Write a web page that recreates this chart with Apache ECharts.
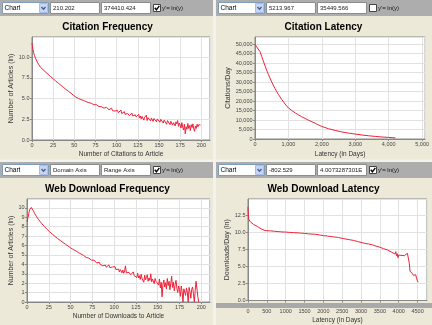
<!DOCTYPE html>
<html><head><meta charset="utf-8">
<script src="https://cdn.jsdelivr.net/npm/echarts@6/dist/echarts.min.js"></script>
<style>html,body{margin:0;padding:0;background:#ece9d8;overflow:hidden}#c{width:432px;height:325px}</style>
</head><body><div id="c"></div>
<script>
// ---- Data ----
// Citation Frequency: ln(number of articles) for citation counts 0..199
const citeFreqY = [
11.7,11.0,10.55,10.2,9.92,9.68,9.47,9.28,9.11,8.95,
8.80,8.70,8.60,8.50,8.41,8.31,8.22,8.12,8.03,7.94,
7.85,7.76,7.67,7.58,7.49,7.40,7.31,7.22,7.13,7.05,
6.96,6.88,6.79,6.71,6.62,6.54,6.46,6.37,6.29,6.21,
6.13,6.04,5.97,5.88,5.81,5.72,5.66,5.57,5.50,5.40,
5.26,5.20,5.17,5.10,5.08,5.02,4.97,4.95,4.88,4.86,
4.80,4.78,4.71,4.69,4.63,4.62,4.55,4.52,4.49,4.42,
4.44,4.33,4.36,4.26,4.30,4.18,4.27,4.10,4.15,4.05,
4.12,3.95,4.02,3.92,4.05,3.85,3.90,3.80,3.95,3.72,
3.82,3.65,3.78,3.60,3.85,3.55,3.62,3.70,3.50,3.60,
3.40,3.58,3.30,3.45,3.25,3.62,3.20,3.35,3.15,3.42,
3.10,3.30,3.05,3.20,3.35,2.95,3.15,3.00,3.25,2.90,
3.10,2.85,3.05,2.80,3.00,2.75,3.10,2.65,2.90,2.55,
2.85,2.95,2.40,2.75,2.60,3.00,2.35,2.70,2.50,2.85,
2.30,2.65,2.75,2.25,2.60,2.45,2.80,2.20,2.55,2.35,
2.65,2.15,2.50,2.30,2.70,2.05,2.40,2.20,2.55,1.90,
2.35,2.15,2.45,1.85,2.25,2.40,1.80,2.10,2.30,1.70,
2.20,1.95,2.35,1.65,2.05,1.85,1.45,2.10,1.55,1.20,
1.90,0.75,1.60,1.30,2.00,1.40,1.75,1.15,1.85,1.50,
1.95,1.35,1.05,1.70,1.40,1.90,1.60,1.85,1.75,1.80
];
// Citation Latency: citations/day vs latency in days
const citeLatX = [0,50,100,150,200,250,300,350,400,500,600,700,800,900,1000,1100,1200,1300,1400,1500,1600,1700,1800,1900,2000,2200,2400,2600,2800,3000,3200,3400,3600,3800,4000,4100,4200];
const citeLatY = [49800,48500,48200,46000,43500,41000,38500,36200,34000,30000,26500,23500,20800,18400,16300,15000,13800,12700,11700,10800,9900,9100,8300,7400,6600,5400,4500,3700,3100,2600,2100,1700,1350,1050,850,700,600];
// Web Download Frequency: ln(number of articles) for download counts 0..197
const dlFreqY = [
8.5,8.9,9.4,9.8,10.0,10.05,9.95,9.75,9.55,9.38,
9.22,9.07,8.93,8.80,8.67,8.55,8.44,8.33,8.22,8.12,
8.02,7.92,7.82,7.73,7.64,7.55,7.46,7.38,7.30,7.22,
7.14,7.06,6.98,6.91,6.83,6.76,6.69,6.62,6.55,6.48,
6.41,6.35,6.28,6.22,6.15,6.09,6.03,5.96,5.91,5.84,
5.76,5.70,5.66,5.58,5.55,5.47,5.44,5.36,5.34,5.25,
5.22,5.15,5.10,5.06,4.98,4.95,4.86,4.85,4.74,4.76,
4.62,4.66,4.52,4.58,4.45,4.50,4.32,4.45,4.25,4.38,
4.15,4.30,4.10,4.22,4.00,4.18,3.95,3.85,4.05,3.75,
3.92,3.70,3.85,3.80,3.95,3.65,3.78,3.60,3.72,3.85,
3.55,3.75,3.45,3.60,3.30,3.50,3.20,3.45,3.35,3.10,
3.40,3.05,3.30,3.85,3.10,3.25,2.95,3.15,3.30,2.90,
3.10,2.85,3.20,2.80,3.00,2.95,2.60,3.05,2.55,2.80,
2.40,2.95,2.50,2.70,2.10,2.85,2.35,2.60,2.90,2.20,
2.55,2.30,3.00,2.15,2.45,2.65,1.95,2.50,2.20,2.40,
2.30,1.80,2.45,1.50,2.10,0.55,1.90,2.35,1.60,2.05,
1.40,2.50,1.75,2.20,1.30,2.00,2.75,1.55,2.10,1.20,
1.85,2.30,1.45,1.00,1.70,1.35,0.60,1.70,1.10,0.00,
1.40,1.60,0.70,1.50,1.05,0.00,1.55,1.10,0.40,1.35,
1.60,0.90,0.00,1.20,2.20,1.40,0.60,0.00
];
// Web Download Latency: ln(downloads/day) vs latency in days
const dlLatX = [0,8,15,30,60,100,150,200,250,300,350,400,450,500,600,700,800,900,1000,1100,1200,1300,1400,1500,1600,1700,1800,1900,2000,2100,2200,2300,2400,2500,2600,2700,2800,2900,3000,3100,3200,3300,3400,3500,3600,3700,3750,3800,3850,3900,3920,3940,3960,3980,4000,4030,4060,4100,4150,4200,4230,4260,4280,4300,4330,4360,4390,4410,4430,4450,4470,4490,4510];
const dlLatY = [13.8,12.6,12.0,11.8,11.6,11.4,11.2,11.05,10.9,10.75,10.55,10.38,10.3,10.28,10.25,10.2,10.15,10.1,10.08,10.03,10.0,9.97,9.93,9.88,9.82,9.78,9.75,9.65,9.55,9.5,9.42,9.35,9.28,9.15,9.05,8.95,8.85,8.7,8.55,8.42,8.32,8.2,8.0,7.85,7.62,7.45,7.3,7.15,7.05,6.85,7.2,6.6,6.9,6.3,6.7,6.9,6.65,6.7,6.6,6.75,6.95,6.8,5.5,4.3,4.1,4.0,3.7,3.95,3.6,3.8,3.3,3.0,2.7];

const titles = ['Citation Frequency','Citation Latency','Web Download Frequency','Web Download Latency'];
const xNames = ['Number of Citations to Article','Latency (in Days)','Number of Downloads to Article','Latency (in Days)'];
const yNames = ['Number of Articles (ln)','Citations/Day','Number of Articles (ln)','Downloads/Day (ln)'];
const fieldA = ['210.202','5213.967','Domain Axis','-802.529'];
const fieldB = ['374410.424','35449.566','Range Axis','4.0073287301E'];
const lnChecked = [true,false,true,true];
const comboText = 'Chart';
const checkLabel = "y'= ln(y)";

// ---- Layout ----
const FONT = '"Liberation Sans", Arial, sans-serif';
const origins = [[0,0],[216,0],[0,162],[216,162]];
const grids = [
  {left:32, top:37, width:178, height:103},
  {left:255, top:37, width:172, height:102},
  {left:27, top:199, width:183, height:103},
  {left:248, top:199, width:179, height:103}
];
const comma = v => Math.round(v).toLocaleString('en-US');
const xCfg = [
  {max:210.2, interval:25, fmt: v=>String(v), margin:2.5, gap:11},
  {max:5090, interval:1000, fmt: comma, margin:2.5, gap:11.5},
  {max:210, interval:25, fmt: v=>String(v), margin:2.5, gap:10.5},
  {max:4750, interval:500, fmt: v=>String(v), margin:8, gap:16.5}
];
const yCfg = [
  {max:12.45, interval:2.5, fmt: v=>v.toFixed(1), gap:16.5},
  {max:53700, interval:5000, fmt: comma, gap:23},
  {max:10.95, interval:1, fmt: v=>String(v), gap:12},
  {max:14.95, interval:2.5, fmt: v=>v.toFixed(1), gap:16.5}
];

const axisCommon = {
  type:'value', min:0,
  axisLine:{show:true, lineStyle:{color:'#888', width:1}},
  axisTick:{show:true, length:2, lineStyle:{color:'#888'}},
  splitLine:{show:true, lineStyle:{color:'#e2e2e2', width:1}},
  nameLocation:'middle'
};

const xAxis = xCfg.map((c,i)=>Object.assign({}, axisCommon, {
  gridIndex:i, max:c.max, interval:c.interval, name:xNames[i], nameGap:c.gap,
  nameTextStyle:{fontSize:6.5, fontFamily:FONT, color:'#333'},
  axisLabel:{fontSize:5.5, fontFamily:FONT, color:'#444', margin:c.margin, formatter:c.fmt, showMaxLabel:false}
}));
const yAxis = yCfg.map((c,i)=>Object.assign({}, axisCommon, {
  gridIndex:i, max:c.max, interval:c.interval, name:yNames[i], nameGap:c.gap,
  nameTextStyle:{fontSize:7, fontFamily:FONT, color:'#333'},
  axisLabel:{fontSize:5.5, fontFamily:FONT, color:'#444', margin:2.5, formatter:c.fmt, showMaxLabel:false}
}));

const seriesData = [
  citeFreqY.map((v,i)=>[i,v]),
  citeLatX.map((x,i)=>[x,citeLatY[i]]),
  dlFreqY.map((v,i)=>[i,v]),
  dlLatX.map((x,i)=>[x,dlLatY[i]])
];
const series = seriesData.map((d,i)=>({
  type:'line', xAxisIndex:i, yAxisIndex:i, data:d, showSymbol:false, symbol:'none',
  lineStyle:{color:'#ee2238', width:1}, silent:true, clip:true
}));

// Toolbars drawn as graphic elements
const graphic = [];
origins.forEach(([px,py],i)=>{
  const w = px===0 ? 213 : 216;
  graphic.push({type:'rect', shape:{x:px, y:py, width:w, height:16}, style:{fill:'#adadad'}, z:10});
  // combo box
  graphic.push({type:'rect', shape:{x:px+2.5, y:py+2.5, width:46, height:11}, style:{fill:'#fff', stroke:'#7f9db9', lineWidth:1}, z:11});
  graphic.push({type:'text', x:px+4.5, y:py+8.5, style:{text:comboText, fontSize:6.5, fontFamily:FONT, fill:'#000', verticalAlign:'middle'}, z:12});
  graphic.push({type:'rect', shape:{x:px+39.5, y:py+3.5, width:8, height:9}, style:{fill:'#c6d6f8', stroke:'#a9bde8', lineWidth:1}, z:12});
  graphic.push({type:'polyline', shape:{points:[[px+41.5,py+7],[px+43.5,py+9.3],[px+45.5,py+7]]}, style:{stroke:'#4d6185', lineWidth:1.4, fill:null}, z:13});
  // two text fields
  [[50,fieldA[i]],[101,fieldB[i]]].forEach(([ox,t])=>{
    graphic.push({type:'rect', shape:{x:px+ox+0.5, y:py+2.5, width:49, height:11}, style:{fill:'#fff', stroke:'#8c8c8c', lineWidth:1}, z:11});
    graphic.push({type:'text', x:px+ox+3, y:py+8.5, style:{text:t, fontSize:6, fontFamily:FONT, fill:'#222', verticalAlign:'middle'}, z:12});
  });
  // checkbox
  graphic.push({type:'rect', shape:{x:px+153.5, y:py+4.5, width:7, height:7}, style:{fill:'#fff', stroke:'#444', lineWidth:1}, z:11});
  if (lnChecked[i]) graphic.push({type:'polyline', shape:{points:[[px+154.8,py+7.8],[px+156.4,py+9.8],[px+159.3,py+5.8]]}, style:{stroke:'#000', lineWidth:1.4, fill:null}, z:12});
  graphic.push({type:'text', x:px+162, y:py+8.5, style:{text:checkLabel, fontSize:6, fontFamily:FONT, fill:'#111', verticalAlign:'middle'}, z:12});
});
// panel separators
graphic.push({type:'rect', shape:{x:213, y:0, width:3, height:325}, style:{fill:'#f3f2ec'}, z:9});
graphic.push({type:'rect', shape:{x:0, y:159.5, width:432, height:2.5}, style:{fill:'#f3f2ec'}, z:9});
// gray band across bottom of the last panel
graphic.push({type:'rect', shape:{x:216, y:303, width:216, height:5}, style:{fill:'#a9a9a9'}, z:20});

const option = {
  animation:false,
  backgroundColor:'#ece9d8',
  title: titles.map((t,i)=>({
    text:t, left:origins[i][0]+107.5, top:origins[i][1]+22, textAlign:'center', padding:0,
    textStyle:{fontSize:10, fontWeight:'bold', fontFamily:FONT, color:'#000'}
  })),
  grid: grids.map(g=>Object.assign({show:true, backgroundColor:'#fff', borderColor:'#888', borderWidth:1, containLabel:false}, g)),
  xAxis, yAxis, series, graphic
};
const chart = echarts.init(document.getElementById('c'), null, {renderer:'canvas'});
chart.setOption(option);
</script>
</body></html>
